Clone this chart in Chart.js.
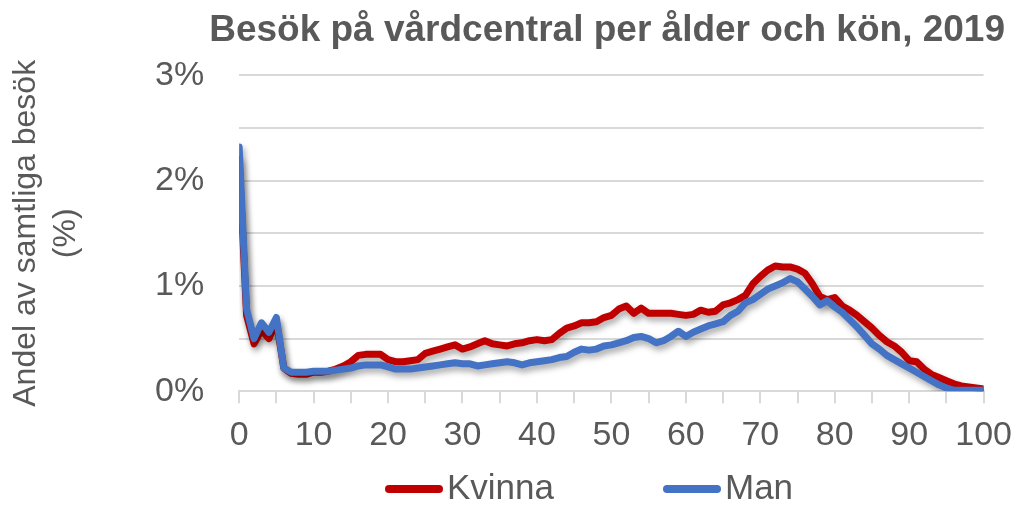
<!DOCTYPE html>
<html>
<head>
<meta charset="utf-8">
<script src="https://cdn.jsdelivr.net/npm/chart.js@4"></script>
<style>
  html, body { margin: 0; padding: 0; background: #fff; }
  #wrap { width: 1024px; height: 505px; }
</style>
</head>
<body>
<div id="wrap"><canvas id="visitsChart"></canvas></div>
<script>
// Ålder (år)
const ages = [
  0, 1, 2, 3, 4, 5, 6, 7, 8, 9, 10, 11, 12, 13, 14, 15, 16, 17, 18, 19,
  20, 21, 22, 23, 24, 25, 26, 27, 28, 29, 30, 31, 32, 33, 34, 35, 36, 37, 38, 39,
  40, 41, 42, 43, 44, 45, 46, 47, 48, 49, 50, 51, 52, 53, 54, 55, 56, 57, 58, 59,
  60, 61, 62, 63, 64, 65, 66, 67, 68, 69, 70, 71, 72, 73, 74, 75, 76, 77, 78, 79,
  80, 81, 82, 83, 84, 85, 86, 87, 88, 89, 90, 91, 92, 93, 94, 95, 96, 97, 98, 99, 100
];

// Andel av samtliga besök (%)
const kvinna = [
  2.20, 0.72, 0.45, 0.58, 0.50, 0.66, 0.22, 0.17, 0.16, 0.16,
  0.18, 0.18, 0.19, 0.21, 0.24, 0.28, 0.34, 0.35, 0.35, 0.35,
  0.30, 0.28, 0.28, 0.29, 0.30, 0.36, 0.38, 0.40, 0.42, 0.44,
  0.40, 0.42, 0.45, 0.48, 0.45, 0.44, 0.43, 0.45, 0.46, 0.48,
  0.49, 0.48, 0.49, 0.55, 0.60, 0.62, 0.65, 0.65, 0.66, 0.70,
  0.72, 0.78, 0.81, 0.74, 0.79, 0.74, 0.74, 0.74, 0.74, 0.73,
  0.72, 0.73, 0.77, 0.75, 0.76, 0.82, 0.84, 0.87, 0.91, 1.02,
  1.09, 1.15, 1.19, 1.18, 1.18, 1.16, 1.12, 1.02, 0.90, 0.87,
  0.89, 0.81, 0.77, 0.72, 0.66, 0.60, 0.53, 0.47, 0.43, 0.37,
  0.29, 0.28, 0.21, 0.16, 0.13, 0.10, 0.07, 0.05, 0.04, 0.03, 0.02
];

const man = [
  2.32, 0.78, 0.50, 0.65, 0.56, 0.70, 0.22, 0.18, 0.18, 0.18,
  0.19, 0.19, 0.19, 0.20, 0.21, 0.22, 0.24, 0.25, 0.25, 0.25,
  0.23, 0.21, 0.21, 0.21, 0.22, 0.23, 0.24, 0.25, 0.26, 0.27,
  0.26, 0.26, 0.24, 0.25, 0.26, 0.27, 0.28, 0.27, 0.25, 0.27,
  0.28, 0.29, 0.30, 0.32, 0.33, 0.37, 0.40, 0.39, 0.40, 0.43,
  0.44, 0.46, 0.48, 0.51, 0.52, 0.50, 0.46, 0.48, 0.52, 0.57,
  0.52, 0.56, 0.59, 0.62, 0.64, 0.66, 0.72, 0.76, 0.84, 0.87,
  0.92, 0.97, 1.00, 1.03, 1.07, 1.04, 0.97, 0.90, 0.82, 0.86,
  0.80, 0.75, 0.68, 0.61, 0.53, 0.45, 0.40, 0.34, 0.30, 0.26,
  0.22, 0.18, 0.14, 0.10, 0.06, 0.03, 0.01, 0.01, 0.01, 0.01, 0.01
];

const seriesNames = ['Kvinna', 'Man'];
const seriesColors = ['#C00000', '#4472C4'];

Chart.defaults.font.family = "'Liberation Sans', Arial, sans-serif";
Chart.defaults.color = '#595959';

// skugga under linjerna
const lineShadow = {
  id: 'lineShadow',
  beforeDatasetsDraw(chart) {
    const ctx = chart.ctx;
    ctx.save();
    ctx.shadowColor = 'rgba(0, 0, 0, 0.35)';
    ctx.shadowBlur = 6;
    ctx.shadowOffsetX = 2;
    ctx.shadowOffsetY = 4;
  },
  afterDatasetsDraw(chart) {
    chart.ctx.restore();
  }
};

// rubriken slutar en bit in från högerkanten (som i originalet)
const titleShift = {
  id: 'titleShift',
  afterLayout(chart) {
    if (chart.titleBlock) chart.titleBlock.right = chart.width - 19;
  }
};

// legend längst ner (linje + text)
const bottomLegend = {
  id: 'bottomLegend',
  afterDraw(chart) {
    const ctx = chart.ctx;
    const y = chart.height - 16;
    const starts = [385, 663];
    ctx.save();
    ctx.font = '35px ' + Chart.defaults.font.family;
    ctx.textBaseline = 'middle';
    ctx.textAlign = 'left';
    seriesNames.forEach((name, i) => {
      const x = starts[i];
      ctx.strokeStyle = seriesColors[i];
      ctx.lineWidth = 8;
      ctx.lineCap = 'round';
      ctx.beginPath();
      ctx.moveTo(x + 4, y);
      ctx.lineTo(x + 54, y);
      ctx.stroke();
      ctx.fillStyle = '#595959';
      ctx.fillText(name, x + 62, y);
    });
    ctx.restore();
  }
};

const ctx = document.getElementById('visitsChart');
new Chart(ctx, {
  type: 'line',
  data: {
    datasets: [
      {
        label: seriesNames[0],
        data: ages.map((a, i) => ({ x: a, y: kvinna[i] })),
        borderColor: seriesColors[0],
        backgroundColor: seriesColors[0],
        borderWidth: 7,
        borderJoinStyle: 'round',
        borderCapStyle: 'round',
        pointRadius: 0,
        tension: 0,
        fill: false,
        order: 1
      },
      {
        label: seriesNames[1],
        data: ages.map((a, i) => ({ x: a, y: man[i] })),
        borderColor: seriesColors[1],
        backgroundColor: seriesColors[1],
        borderWidth: 7,
        borderJoinStyle: 'round',
        borderCapStyle: 'round',
        pointRadius: 0,
        tension: 0,
        fill: false,
        order: 0
      }
    ]
  },
  options: {
    responsive: true,
    maintainAspectRatio: false,
    animation: false,
    layout: { padding: { left: 0, right: -14, top: 0, bottom: 37 } },
    plugins: {
      legend: { display: false },
      tooltip: { enabled: false },
      title: {
        display: true,
        text: 'Besök på vårdcentral per ålder och kön, 2019',
        align: 'end',
        color: '#595959',
        font: { size: 37, weight: 'bold' },
        padding: { top: 9, bottom: 22 }
      }
    },
    scales: {
      x: {
        type: 'linear',
        min: 0,
        max: 100,
        grid: {
          drawOnChartArea: false,
          drawTicks: true,
          tickLength: 12,
          color: '#d9d9d9',
          lineWidth: 2
        },
        border: { display: true, color: '#d9d9d9', width: 2 },
        ticks: {
          stepSize: 5,
          autoSkip: false,
          maxRotation: 0,
          padding: 12,
          color: '#595959',
          font: { size: 34 },
          callback: (v) => (v % 10 === 0 ? v : '')
        }
      },
      y: {
        min: 0,
        max: 3,
        grid: { color: '#d9d9d9', lineWidth: 2, drawTicks: false },
        border: { display: false },
        ticks: {
          stepSize: 0.5,
          padding: 35,
          color: '#595959',
          font: { size: 34 },
          callback: (v) => (Number.isInteger(v) ? v + '%' : '')
        },
        title: {
          display: true,
          text: ['Andel av samtliga besök', '(%)'],
          color: '#595959',
          font: { size: 32, lineHeight: 1.25 },
          padding: { top: 6, bottom: 34 }
        }
      }
    }
  },
  plugins: [lineShadow, titleShift, bottomLegend]
});
</script>
</body>
</html>
